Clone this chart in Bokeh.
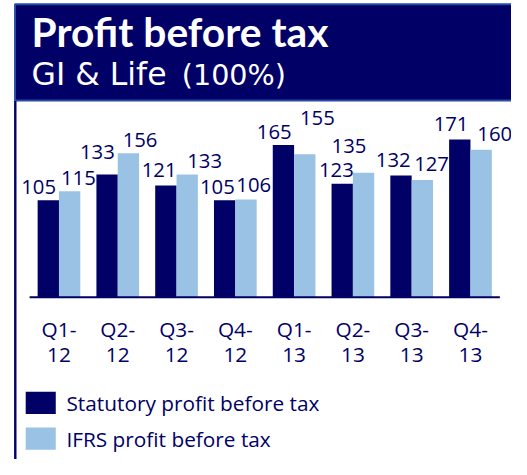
from bokeh.plotting import figure
from bokeh.models import ColumnDataSource, Range1d
from bokeh.core.properties import value
from bokeh.embed import file_html
from bokeh.resources import INLINE

# ---------------- data ----------------
quarters = ["Q1-\n12", "Q2-\n12", "Q3-\n12", "Q4-\n12",
            "Q1-\n13", "Q2-\n13", "Q3-\n13", "Q4-\n13"]
statutory = [105, 133, 121, 105, 165, 123, 132, 171]
ifrs = [115, 156, 133, 106, 155, 135, 127, 160]
series_names = ["Statutory profit before tax", "IFRS profit before tax"]
title_text = "Profit before tax"
subtitle_main = "GI & Life"
subtitle_pct = "(100%)"

# label nudges in pixels (horizontal shift from bar centre, gap above bar top)
stat_dx = [-10, -10, -7, -7.5, -9.5, -6, -8, -9]
stat_gap = [6, 16, 9, 6, 6, 7, 8, 9]
ifrs_dx = [9, 12, 18, 8, 13, -15, 9.5, 14]
ifrs_gap = [6, 6, 7, 7, 30, 20, 9, 9]

# ---------------- style / layout ----------------
NAVY = "#000066"
LIGHT = "#99c2e4"
BORDER = "#2a4ba6"

W, H = 511, 459          # figure size
RW, RH = 527, 475        # design size
SX, SY = W / RW, H / RH
S = (SX + SY) / 2
U = 60.625               # design px per category
C0 = 60.3                # design x of first category centre
PPU = 0.954              # design px per unit of profit
BASE = 307               # design y of zero line
BAR_W = 0.363

xs = 0.5 - C0 / U
xe = xs + RW / U
ye = BASE / PPU
ys = -(RH - BASE) / PPU


def px2x(rx):
    return xs + rx / U


def px2y(ry):
    return (BASE - ry) / PPU


def fs(px):
    return f"{px * S:.1f}px"


p = figure(width=W, height=H, output_backend="svg", toolbar_location=None,
           x_range=Range1d(xs, xe), y_range=Range1d(ys, ye),
           x_axis_location=None, y_axis_location=None,
           min_border=0, outline_line_color=None,
           background_fill_color="white", border_fill_color="white")
p.grid.visible = False

n = len(quarters)
centers = [i + 0.5 for i in range(n)]
half = BAR_W / 2

# ---------------- header ----------------
p.quad(left=[px2x(15)], right=[xe + 1], top=[px2y(4)], bottom=[px2y(103.5)],
       fill_color=NAVY, line_color=BORDER, line_width=2)
p.text(x=[px2x(32)], y=[px2y(32.5)], text=[title_text],
       text_font=value("Lato"), text_font_style="bold", text_font_size=fs(42),
       text_color="white", text_baseline="middle", text_align="left")
p.text(x=[px2x(32)], y=[px2y(76)], text=[subtitle_main],
       text_font=value("DejaVu Sans"), text_font_size=fs(32.5),
       text_color="white", text_baseline="middle", text_align="left")
p.text(x=[px2x(187)], y=[px2y(77)], text=[subtitle_pct],
       text_font=value("DejaVu Sans"), text_font_size=fs(29.5),
       text_color="white", text_baseline="middle", text_align="left")

# left frame line
p.quad(left=[px2x(14)], right=[px2x(16.5)], top=[px2y(104)], bottom=[ys - 2],
       fill_color=NAVY, line_color=None)

# ---------------- bars ----------------
stat_src = ColumnDataSource(dict(
    x=[c - half for c in centers], top=statutory,
    ly=[v + (g + 7.5) / PPU for v, g in zip(statutory, stat_gap)],
    dx=[d * SX for d in stat_dx], txt=[str(v) for v in statutory]))
ifrs_src = ColumnDataSource(dict(
    x=[c + half for c in centers], top=ifrs,
    ly=[v + (g + 7.5) / PPU for v, g in zip(ifrs, ifrs_gap)],
    dx=[d * SX for d in ifrs_dx], txt=[str(v) for v in ifrs]))

p.vbar(x="x", top="top", bottom=0, width=BAR_W, source=stat_src,
       fill_color=NAVY, line_color=None)
p.vbar(x="x", top="top", bottom=0, width=BAR_W, source=ifrs_src,
       fill_color=LIGHT, line_color=None)

for src in (stat_src, ifrs_src):
    p.text(x="x", y="ly", text="txt", x_offset="dx", source=src,
           text_font=value("Open Sans"), text_font_size=fs(21),
           text_color=NAVY, text_align="center", text_baseline="middle")

# zero line
p.segment(x0=[px2x(30)], x1=[px2x(515)], y0=[0], y1=[0],
          line_color=NAVY, line_width=2)

# category labels (two lines)
line1 = [q.split("\n")[0] for q in quarters]
line2 = [q.split("\n")[1] for q in quarters]
p.text(x=centers, y=[px2y(340)] * n, text=line1,
       text_font=value("Open Sans"), text_font_size=fs(21.5),
       text_color=NAVY, text_align="center", text_baseline="middle")
p.text(x=centers, y=[px2y(367)] * n, text=line2,
       text_font=value("Open Sans"), text_font_size=fs(21.5),
       text_color=NAVY, text_align="center", text_baseline="middle")

# ---------------- legend ----------------
sw_top = [405, 442]
sw_colors = [NAVY, LIGHT]
for i, name in enumerate(series_names):
    t = sw_top[i]
    p.quad(left=[px2x(26)], right=[px2x(57)], top=[px2y(t)], bottom=[px2y(t + 23)],
           fill_color=sw_colors[i], line_color=None)
    p.text(x=[px2x(68)], y=[px2y(t + 12)], text=[name],
           text_font=value("Open Sans"), text_font_size=fs(21.5),
           text_color=NAVY, text_align="left", text_baseline="middle")

open("out.html", "w").write(file_html(p, INLINE))
